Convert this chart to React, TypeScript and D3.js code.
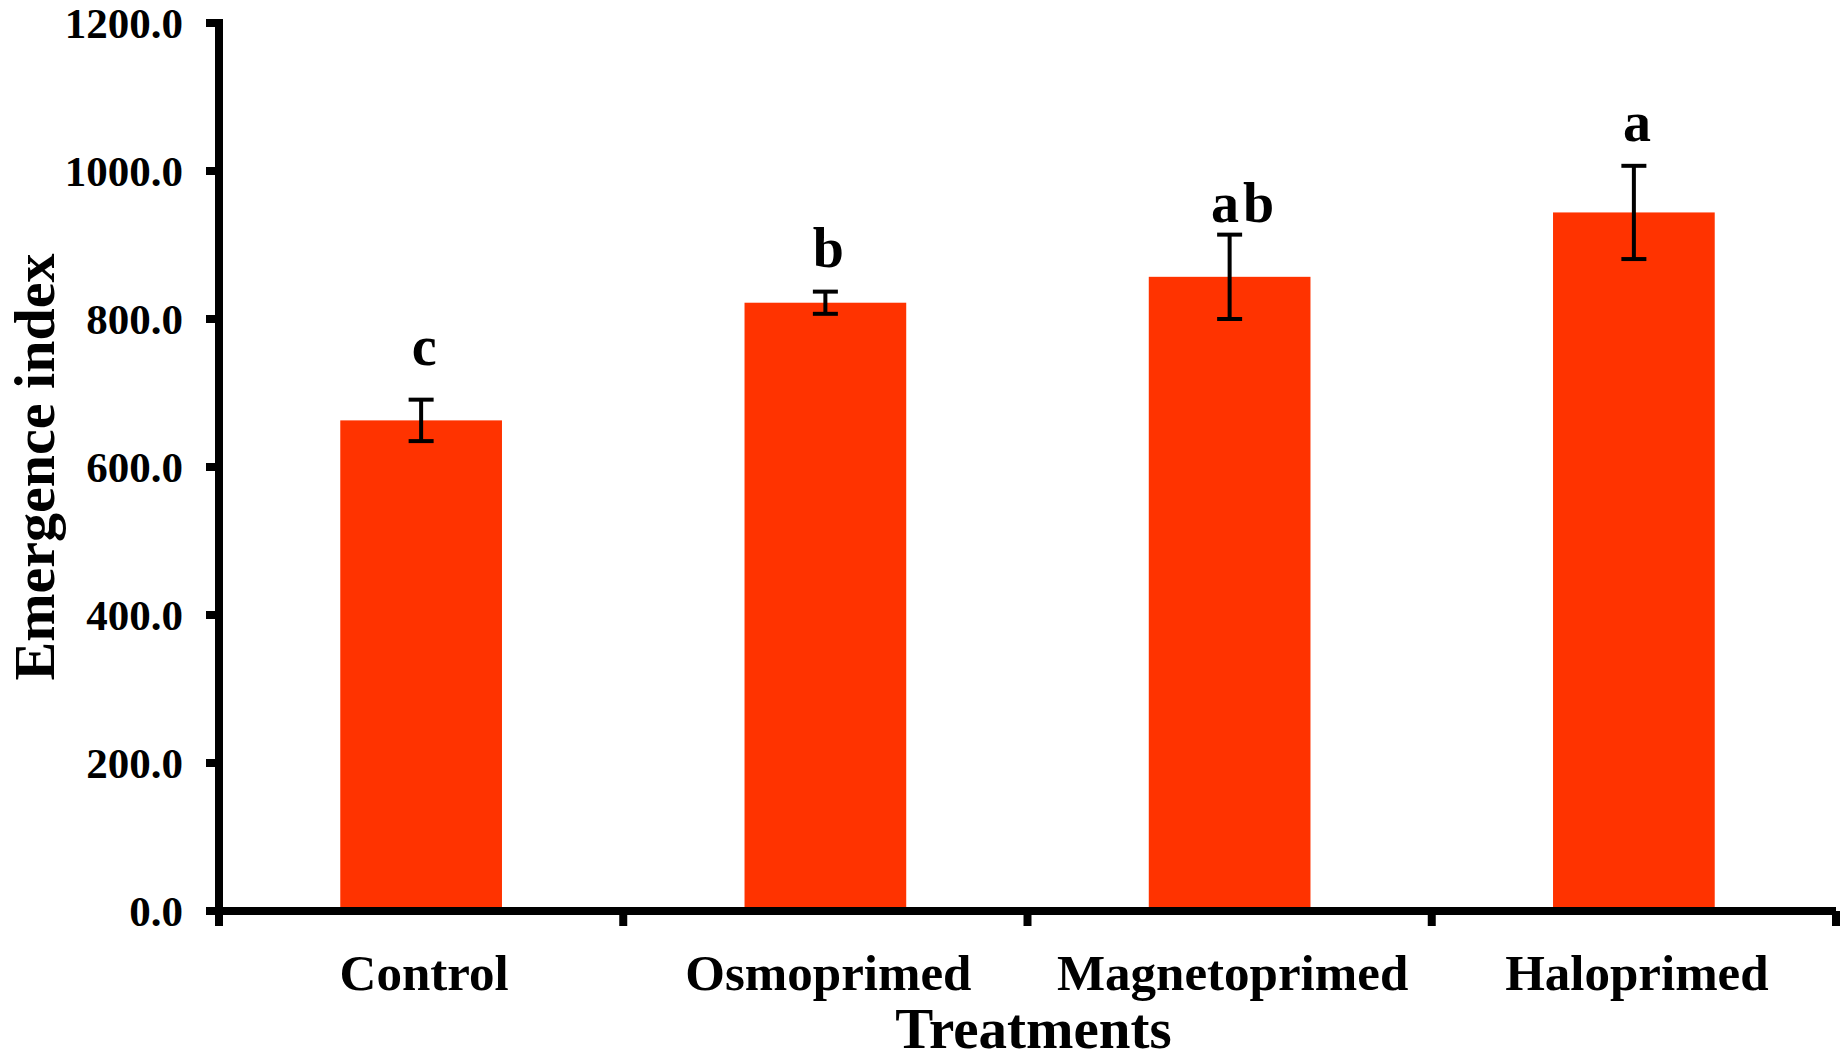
import React, { useEffect, useRef } from "react"
import * as d3 from "d3"

const categories = ["Control", "Osmoprimed", "Magnetoprimed", "Haloprimed"]
const means = [663, 822, 857, 944]
const errors = [28, 15, 57, 63]
const letters = ["c", "b", "ab", "a"]
// where each letter's baseline sits, in y units
const letterAt = [738, 870, 931, 1041]
const yTicks = [0, 200, 400, 600, 800, 1000, 1200]

const W = 1845
const H = 1061
const margin = { top: 23, right: 9, bottom: 150, left: 219 }
const font = "'Liberation Serif', 'Times New Roman', Times, serif"

const App = () => {
  const svgRef = useRef<SVGSVGElement | null>(null)

  useEffect(() => {
    if (!svgRef.current) return
    const svg = d3.select(svgRef.current)
    svg.selectAll("*").remove()

    const x = d3
      .scaleBand()
      .domain(categories)
      .range([margin.left, W - margin.right])
      .paddingInner(0.6)
      .paddingOuter(0.3)

    const y = d3
      .scaleLinear()
      .domain([0, 1200])
      .range([H - margin.bottom, margin.top])

    const x0 = margin.left
    const x1 = W - margin.right
    const y0 = y(0)
    const step = x.step()

    // bars
    svg
      .append("g")
      .selectAll("rect")
      .data(categories)
      .join("rect")
      .attr("x", (d) => x(d)!)
      .attr("width", x.bandwidth())
      .attr("y", (_, i) => y(means[i]))
      .attr("height", (_, i) => y0 - y(means[i]))
      .attr("fill", "#ff3300")

    // error bars
    const eb = svg
      .append("g")
      .attr("stroke", "#000")
      .attr("stroke-width", 4)
    categories.forEach((c, i) => {
      const cx = x(c)! + x.bandwidth() / 2
      const top = y(means[i] + errors[i])
      const bot = y(means[i] - errors[i])
      eb.append("line").attr("x1", cx).attr("x2", cx).attr("y1", top).attr("y2", bot)
      eb.append("line").attr("x1", cx - 12.5).attr("x2", cx + 12.5).attr("y1", top).attr("y2", top)
      eb.append("line").attr("x1", cx - 12.5).attr("x2", cx + 12.5).attr("y1", bot).attr("y2", bot)
    })

    // significance letters
    svg
      .append("g")
      .selectAll("text")
      .data(letters)
      .join("text")
      .attr("x", (_, i) => x(categories[i])! + x.bandwidth() / 2 + (letters[i].length > 1 ? 15 : 3))
      .attr("y", (_, i) => y(letterAt[i]))
      .attr("text-anchor", "middle")
      .attr("font-family", font)
      .attr("font-weight", "bold")
      .attr("font-size", 56)
      .attr("letter-spacing", (d) => (d.length > 1 ? 4 : 0))
      .text((d) => d)

    // axes
    const axes = svg.append("g").attr("stroke", "#000").attr("stroke-width", 8)
    axes.append("line").attr("x1", x0).attr("x2", x0).attr("y1", y(1200) - 4).attr("y2", y0 + 4)
    axes.append("line").attr("x1", x0 - 4).attr("x2", x1).attr("y1", y0).attr("y2", y0)

    yTicks.forEach((t) => {
      axes.append("line").attr("x1", x0 - 13).attr("x2", x0).attr("y1", y(t)).attr("y2", y(t))
    })
    d3.range(categories.length + 1).forEach((k) => {
      const tx = x0 + k * step
      axes.append("line").attr("x1", tx).attr("x2", tx).attr("y1", y0).attr("y2", y0 + 15)
    })

    svg
      .append("g")
      .selectAll("text")
      .data(yTicks)
      .join("text")
      .attr("x", 183)
      .attr("y", (d) => y(d))
      .attr("dy", "0.34em")
      .attr("text-anchor", "end")
      .attr("font-family", font)
      .attr("font-weight", "bold")
      .attr("font-size", 43)
      .text((d) => d3.format(".1f")(d))

    svg
      .append("g")
      .selectAll("text")
      .data(categories)
      .join("text")
      .attr("x", (d) => x(d)! + x.bandwidth() / 2 + 3)
      .attr("y", 990)
      .attr("text-anchor", "middle")
      .attr("font-family", font)
      .attr("font-weight", "bold")
      .attr("font-size", 51)
      .text((d) => d)

    svg
      .append("text")
      .attr("x", (x0 + x1) / 2 + 6)
      .attr("y", 1048)
      .attr("text-anchor", "middle")
      .attr("font-family", font)
      .attr("font-weight", "bold")
      .attr("font-size", 57)
      .text("Treatments")

    svg
      .append("text")
      .attr("transform", `translate(54,${(y(0) + y(1200)) / 2}) rotate(-90)`)
      .attr("text-anchor", "middle")
      .attr("font-family", font)
      .attr("font-weight", "bold")
      .attr("font-size", 58)
      .text("Emergence index")
  }, [])

  return (
    <>
      <style>{`body{margin:0;background:#fff}`}</style>
      <svg ref={svgRef} width={W} height={H} style={{ display: "block", background: "#fff" }}></svg>
    </>
  )
}

export default App
